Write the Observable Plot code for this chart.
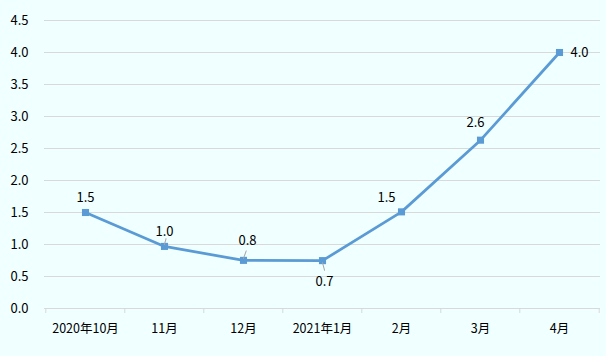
<!DOCTYPE html>
<html>
<head>
<meta charset="utf-8">
<script src="https://cdn.jsdelivr.net/npm/d3@7"></script>
<script src="https://cdn.jsdelivr.net/npm/@observablehq/plot@0.6"></script>
<style>
  html, body { margin: 0; padding: 0; background: #f0ffff; }
  #chart svg { display: block; }
</style>
</head>
<body>
<div id="chart"></div>
<script>
const months = ["2020年10月", "11月", "12月", "2021年1月", "2月", "3月", "4月"];
const values = [1.5, 0.97, 0.752, 0.748, 1.51, 2.63, 4.0];
const yTicks = [0, 0.5, 1, 1.5, 2, 2.5, 3, 3.5, 4, 4.5];

const data = months.map((m, i) => ({month: m, value: values[i], label: values[i].toFixed(1)}));

// label placement (style only)
const placement = ["top", "top", "topright", "bottom", "topleft", "topleft2", "right"];
const offsets = {
  top: {dx: 0, dy: -15},
  topright: {dx: 4, dy: -20},
  bottom: {dx: 2, dy: 21},
  topleft: {dx: -15, dy: -14},
  topleft2: {dx: -5, dy: -17},
  right: {dx: 11, dy: 0}
};
const leaders = {1: {rotate: 15, len: 6, dy: -2}, 2: {rotate: 20, len: 8, dy: -2}, 3: {rotate: 165, len: 8, dy: 2}};

const font = "'Noto Sans CJK JP', 'Noto Sans', sans-serif";
const color = "#5b9bd5";
const W = 606, ML = 44, MR = 6;
const step = (W - ML - MR) / months.length;

const textMarks = Object.keys(offsets).map(k =>
  Plot.text(data.filter((d, i) => placement[i] === k), {
    x: "month", y: "value", text: "label",
    dx: offsets[k].dx, dy: offsets[k].dy,
    textAnchor: k === "right" ? "start" : "middle",
    fontSize: 13, fill: "#000"
  })
);

const leaderShape = {
  draw(context, l) { context.moveTo(0, 0); context.lineTo(0, -l); }
};
const leaderMarks = Object.entries(leaders).map(([i, o]) =>
  Plot.vector([data[+i]], {
    x: "month", y: "value", length: o.len, rotate: o.rotate, dy: o.dy,
    anchor: "start", shape: leaderShape, stroke: "#a6a6a6", strokeWidth: 1
  })
);

const plot = Plot.plot({
  width: W,
  height: 356,
  marginLeft: ML,
  marginRight: MR,
  marginTop: 20,
  marginBottom: 48,
  style: {background: "#f0ffff", fontFamily: font, color: "#000", overflow: "visible"},
  x: {type: "point", domain: months, padding: 0.5, label: null},
  y: {domain: [0, 4.5], label: null},
  marks: [
    Plot.ruleY(yTicks, {stroke: "#d9d9d9", strokeWidth: 1}),
    Plot.ruleX(months, {x: d => d, y1: 0, y2: 0, dx: -step / 2, insetBottom: -5, stroke: "#d9d9d9"}),
    Plot.ruleX([months[months.length - 1]], {x: d => d, y1: 0, y2: 0, dx: step / 2, insetBottom: -5, stroke: "#d9d9d9"}),
    Plot.axisY({ticks: yTicks, tickFormat: d => d.toFixed(1), tickSize: 0, tickPadding: 16, fontSize: 13, fill: "#000"}),
    Plot.axisX({tickSize: 0, tickPadding: 16, fontSize: 12.5, fill: "#000"}),
    Plot.line(data, {x: "month", y: "value", stroke: color, strokeWidth: 2.75}),
    Plot.dot(data, {x: "month", y: "value", symbol: "square", r: 4, fill: color, stroke: null}),
    ...leaderMarks,
    ...textMarks
  ]
});
document.getElementById("chart").appendChild(plot);
</script>
</body>
</html>
